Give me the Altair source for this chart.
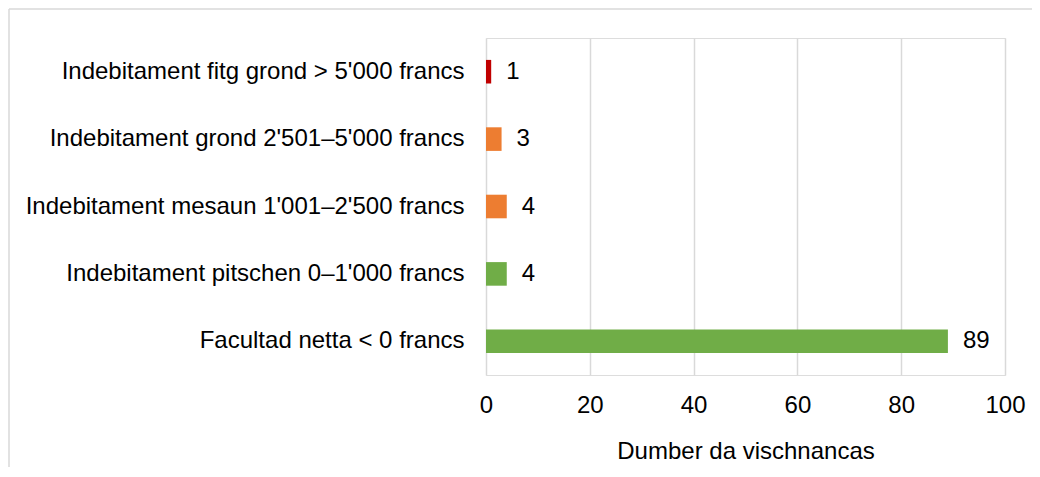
import altair as alt
import pandas as pd

categories = [
    "Indebitament fitg grond > 5'000 francs",
    "Indebitament grond 2'501–5'000 francs",
    "Indebitament mesaun 1'001–2'500 francs",
    "Indebitament pitschen 0–1'000 francs",
    "Facultad netta < 0 francs",
]
values = [1, 3, 4, 4, 89]
colors = ["#C00000", "#ED7D31", "#ED7D31", "#70AD47", "#70AD47"]
x_ticks = [0, 20, 40, 60, 80, 100]
x_title = "Dumber da vischnancas"

df = pd.DataFrame({"cat": categories, "val": values, "col": colors})

FONT = "Liberation Sans"
FS = 24

base = alt.Chart(df)

y_enc = alt.Y(
    "cat:N",
    sort=categories,
    title=None,
    scale=alt.Scale(paddingInner=0.65, paddingOuter=0.325),
    axis=alt.Axis(
        labelFont=FONT, labelFontSize=FS, labelColor="#000000",
        labelPadding=22, ticks=False, tickSize=0, domain=False, grid=False,
        labelLimit=600,
    ),
)

bars = base.mark_bar().encode(
    y=y_enc,
    x=alt.X(
        "val:Q",
        scale=alt.Scale(domain=[0, 100], nice=False),
        axis=alt.Axis(
            values=x_ticks, title=x_title, labelFont=FONT, labelFontSize=FS,
            labelColor="#000000", titleFont=FONT, titleFontSize=FS,
            titleFontWeight="normal", titleColor="#000000",
            ticks=False, tickSize=0, domain=False, labelPadding=18,
            labelFlush=False, labelOverlap=False,
            grid=True, gridColor="#d9d9d9", gridWidth=1.5,
            titleBaseline="alphabetic", titleY=83,
        ),
    ),
    color=alt.Color("col:N", scale=None),
)

labels = base.mark_text(
    align="left", baseline="middle", dx=15, font=FONT, fontSize=FS, color="#000000"
).encode(
    y=alt.Y("cat:N", sort=categories),
    x=alt.X("val:Q"),
    text=alt.Text("val:Q"),
)

frame_df = pd.DataFrame({"a": [0]})
frame_v = alt.Chart(frame_df).mark_rule(color="#d9d9d9", strokeWidth=1.5, clip=False).encode(
    x=alt.value(-477), y=alt.value(-29), y2=alt.value(470)
)
frame_h = alt.Chart(frame_df).mark_rule(color="#d9d9d9", strokeWidth=1.5, clip=False).encode(
    x=alt.value(-477), x2=alt.value(560), y=alt.value(-29)
)

chart = (
    alt.layer(frame_v, frame_h, bars, labels)
    .properties(
        width=519,
        height=337,
        autosize=alt.AutoSizeParams(type="none"),
        padding={"left": 478, "top": 30, "right": 27, "bottom": 92},
    )
    .configure_view(stroke=None)
    .configure(background="#ffffff")
)

chart.save("out.html", embed_options={"renderer": "svg", "actions": False})
